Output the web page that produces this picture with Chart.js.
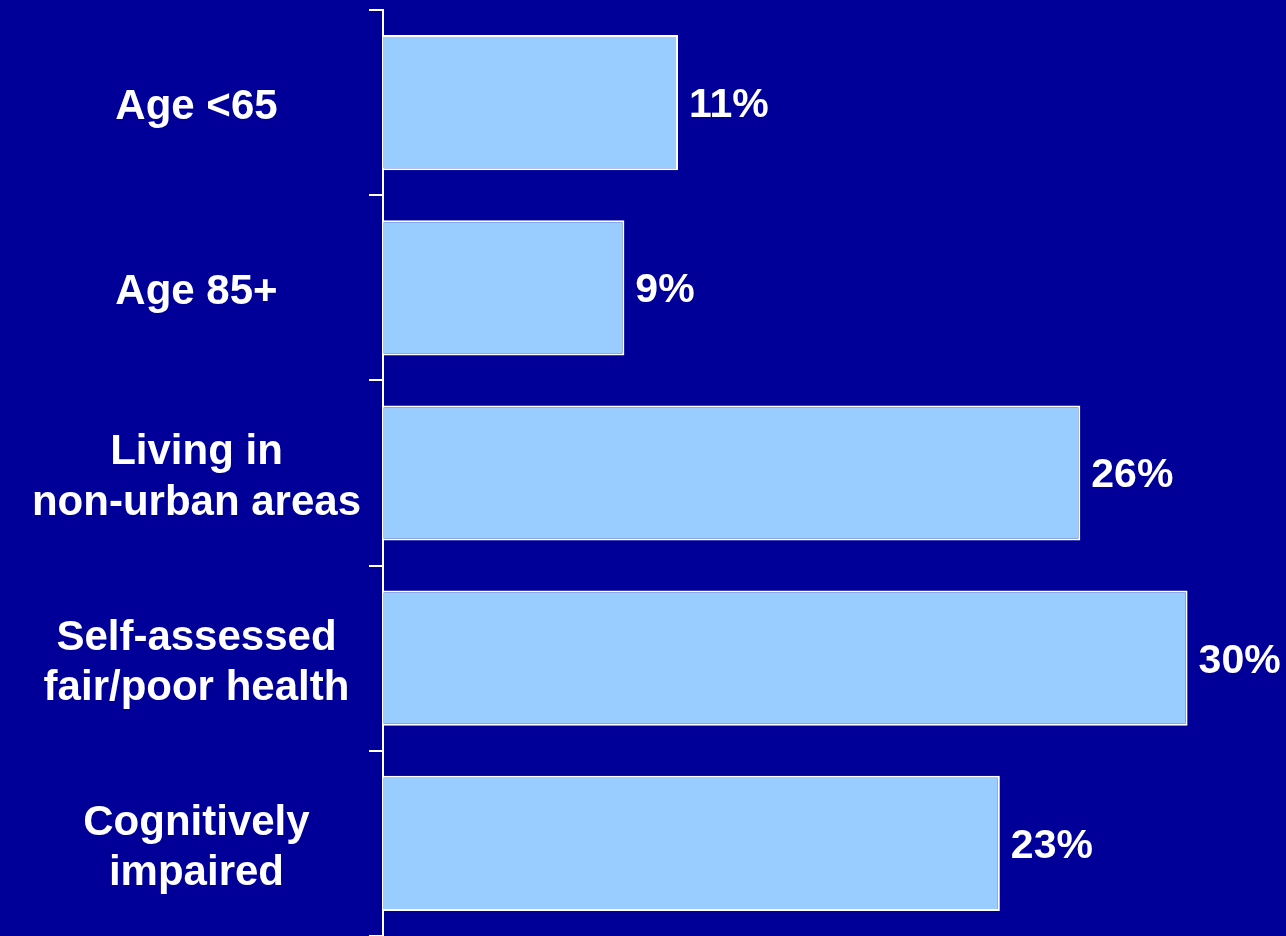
<!DOCTYPE html>
<html>
<head>
<meta charset="utf-8">
<script src="https://cdn.jsdelivr.net/npm/chart.js@4"></script>
<style>
  html, body { margin: 0; padding: 0; background: #000099; }
  #wrap { width: 1286px; height: 936px; }
</style>
</head>
<body>
<div id="wrap"><canvas id="chart"></canvas></div>
<script>
const categories = [
  ["Age <65"],
  ["Age 85+"],
  ["Living in", "non-urban areas"],
  ["Self-assessed", "fair/poor health"],
  ["Cognitively", "impaired"]
]
const percents = [11, 9, 26, 30, 23]
const axisMax = 33.67

const fontFamily = "'Liberation Sans', Arial, Helvetica, sans-serif"

// draws the "11%" style numbers just past the end of each bar
const valueLabels = {
  id: "valueLabels",
  afterDatasetsDraw(chart) {
    const { ctx } = chart
    const meta = chart.getDatasetMeta(0)
    ctx.save()
    ctx.fillStyle = "#ffffff"
    ctx.font = `bold 41px ${fontFamily}`
    ctx.textAlign = "left"
    ctx.textBaseline = "middle"
    meta.data.forEach((bar, i) => {
      ctx.fillText(`${percents[i]}%`, bar.x + 11, bar.y + 3)
    })
    ctx.restore()
  }
}

new Chart(document.getElementById("chart"), {
  type: "bar",
  data: {
    labels: categories,
    datasets: [{
      data: percents,
      backgroundColor: "#99ccff",
      borderColor: "#ffffff",
      borderWidth: 2,
      barPercentage: 0.73,
      categoryPercentage: 1
    }]
  },
  options: {
    indexAxis: "y",
    responsive: true,
    maintainAspectRatio: false,
    animation: false,
    layout: { padding: { top: 10, right: 0, bottom: 0, left: 0 } },
    plugins: {
      legend: { display: false },
      tooltip: { enabled: false }
    },
    scales: {
      x: { display: false, min: 0, max: axisMax },
      y: {
        afterFit: scale => {
          scale.width = 383
          scale.paddingTop = 0
          scale.paddingBottom = 0
        },
        border: { color: "#ffffff", width: 2 },
        grid: { drawOnChartArea: false, color: "#ffffff", lineWidth: 2, tickLength: 14 },
        ticks: {
          color: "#ffffff",
          crossAlign: "center",
          padding: 8,
          labelOffset: 5,
          font: { family: fontFamily, size: 42, weight: "bold", lineHeight: 1.2 }
        }
      }
    }
  },
  plugins: [valueLabels]
})
</script>
</body>
</html>
